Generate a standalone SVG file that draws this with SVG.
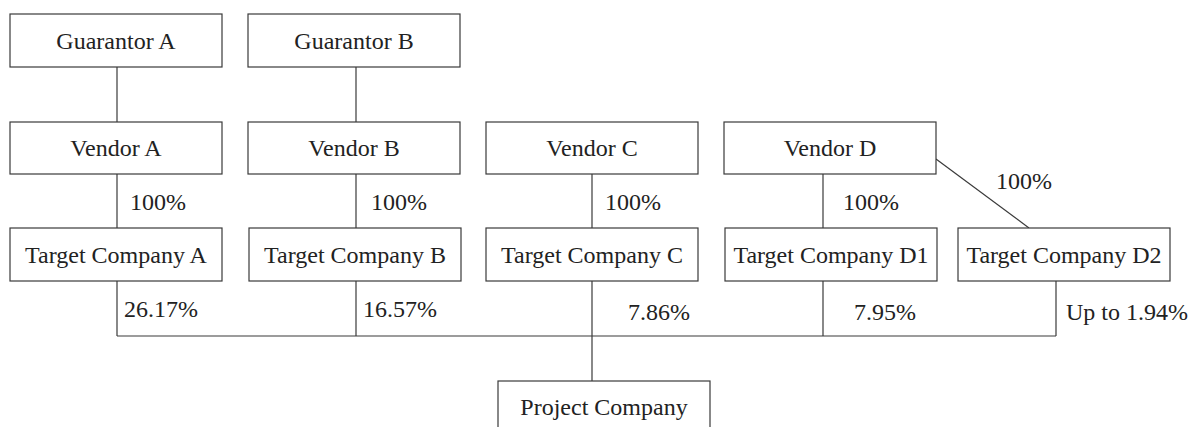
<svg xmlns="http://www.w3.org/2000/svg" width="1192" height="427" viewBox="0 0 1192 427" font-family="Liberation Serif, DejaVu Serif, serif">
  <style>
    .box { fill: #ffffff; stroke: #3a3a3a; stroke-width: 1.2; }
    .name { font-size: 24px; fill: #222222; text-anchor: middle; }
    .pct { font-size: 24px; fill: #222222; }
    .wire { fill: none; stroke: #3a3a3a; stroke-width: 1.2; }
  </style>
  <rect width="1192" height="427" fill="#ffffff"/>

  <!-- connectors -->
  <g id="connectors" font-family="Liberation Serif, DejaVu Serif, serif">
    <line class="wire" x1="117" y1="67" x2="117" y2="122"/>
    <line class="wire" x1="356" y1="67" x2="356" y2="122"/>
    <line class="wire" x1="117" y1="174" x2="117" y2="228"/>
    <line class="wire" x1="356" y1="174" x2="356" y2="228"/>
    <line class="wire" x1="592" y1="174" x2="592" y2="228"/>
    <line class="wire" x1="823" y1="174" x2="823" y2="228"/>
    <line class="wire" x1="936" y1="159" x2="1029" y2="228"/>
    <line class="wire" x1="117" y1="281" x2="117" y2="336"/>
    <line class="wire" x1="356" y1="281" x2="356" y2="336"/>
    <line class="wire" x1="592" y1="281" x2="592" y2="381"/>
    <line class="wire" x1="823" y1="281" x2="823" y2="336"/>
    <line class="wire" x1="1056" y1="281" x2="1056" y2="336"/>
    <line class="wire" x1="117" y1="336" x2="1056" y2="336"/>
    <text class="pct" x="130" y="210">100%</text>
    <text class="pct" x="371" y="210">100%</text>
    <text class="pct" x="605" y="210">100%</text>
    <text class="pct" x="843" y="210">100%</text>
    <text class="pct" x="996" y="189">100%</text>
    <text class="pct" x="124" y="317">26.17%</text>
    <text class="pct" x="363" y="317">16.57%</text>
    <text class="pct" x="628" y="320">7.86%</text>
    <text class="pct" x="854" y="320">7.95%</text>
    <text class="pct" x="1066" y="320">Up to 1.94%</text>
  </g>

  <g id="guarantor-a">
    <rect class="box" x="10" y="14" width="212" height="53"/>
    <text class="name" x="116" y="49">Guarantor A</text>
  </g>
  <g id="guarantor-b">
    <rect class="box" x="248" y="14" width="212" height="53"/>
    <text class="name" x="354" y="49">Guarantor B</text>
  </g>

  <g id="vendor-a">
    <rect class="box" x="10" y="122" width="212" height="52"/>
    <text class="name" x="116" y="156">Vendor A</text>
  </g>
  <g id="vendor-b">
    <rect class="box" x="248" y="122" width="212" height="52"/>
    <text class="name" x="354" y="156">Vendor B</text>
  </g>
  <g id="vendor-c">
    <rect class="box" x="486" y="122" width="212" height="52"/>
    <text class="name" x="592" y="156">Vendor C</text>
  </g>
  <g id="vendor-d">
    <rect class="box" x="724" y="122" width="212" height="52"/>
    <text class="name" x="830" y="156">Vendor D</text>
  </g>

  <g id="target-a">
    <rect class="box" x="10" y="228" width="212" height="53"/>
    <text class="name" x="116" y="263">Target Company A</text>
  </g>
  <g id="target-b">
    <rect class="box" x="249" y="228" width="212" height="53"/>
    <text class="name" x="355" y="263">Target Company B</text>
  </g>
  <g id="target-c">
    <rect class="box" x="486" y="228" width="212" height="53"/>
    <text class="name" x="592" y="263">Target Company C</text>
  </g>
  <g id="target-d1">
    <rect class="box" x="725" y="228" width="212" height="53"/>
    <text class="name" x="831" y="263">Target Company D1</text>
  </g>
  <g id="target-d2">
    <rect class="box" x="958" y="228" width="212" height="53"/>
    <text class="name" x="1064" y="263">Target Company D2</text>
  </g>

  <g id="project-company">
    <rect class="box" x="498" y="381" width="212" height="53"/>
    <text class="name" x="604" y="415">Project Company</text>
  </g>
</svg>
